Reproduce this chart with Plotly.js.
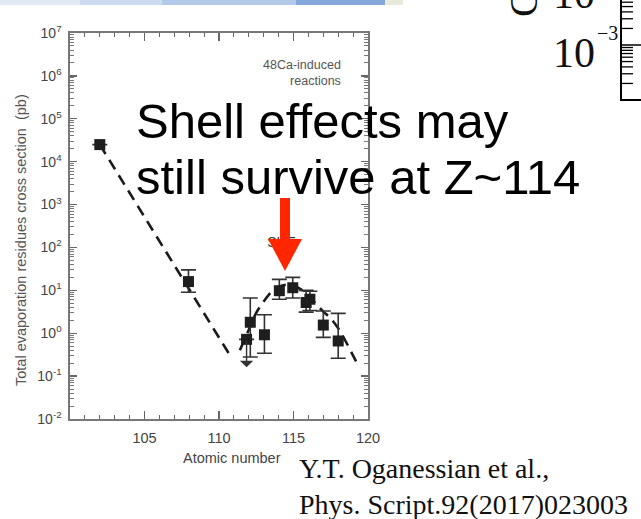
<!DOCTYPE html>
<html><head><meta charset="utf-8">
<script src="https://cdn.plot.ly/plotly-3.0.1.min.js"></script>
<style>html,body{margin:0;padding:0;background:#fff;overflow:hidden}#chart{width:641px;height:519px}</style>
</head><body><div id="chart"></div>
<script>
// ---- data ----
const zPoints   = [102, 107.95, 111.85, 112.1, 113.05, 114.05, 114.95, 115.85, 116.1, 117.0, 118.0];
const sigma     = [25000, 16, 0.72, 1.8, 0.92, 9.8, 11.5, 5.2, 6.2, 1.55, 0.66];
const sigmaHigh = [25000, 30, 0.72, 6.6, 2.7, 18, 20, 10, 9.5, 3.3, 2.9];
const sigmaLow  = [25000, 9, 0.72, 0.28, 0.34, 6.2, 6.6, 3.1, 3.4, 0.8, 0.26];
const limitZ    = [111.85];
const limitFrom = [0.72];
const limitTo   = [0.16];
const trend1Z = [102, 110.75];
const trend1S = [25000, 0.3];
const trend2Z = [111.4, 112.0, 112.5, 113.0, 113.5, 114.0, 114.5, 115.0, 115.5, 116.0, 116.5, 117.0, 117.5, 118.0, 118.5, 119.0, 119.4];
const trend2S = [0.4, 1.2, 3.0, 5.5, 9, 12, 13.5, 13, 10.5, 7.5, 4.8, 3.2, 2.2, 1.3, 0.65, 0.3, 0.16];
const yTickVals = [1e-2, 1e-1, 1, 1e1, 1e2, 1e3, 1e4, 1e5, 1e6, 1e7];
const yTickText = ['10<sup>-2</sup>','10<sup>-1</sup>','10<sup>0</sup>','10<sup>1</sup>','10<sup>2</sup>','10<sup>3</sup>','10<sup>4</sup>','10<sup>5</sup>','10<sup>6</sup>','10<sup>7</sup>'];
const xTickVals = [105, 110, 115, 120];
const xTickText = ['105', '110', '115', '120'];
const sheLabel = ['SHE'];
const sheZ = [114.2];
const sheS = [125];

// ---- geometry helpers (pixel -> paper) ----
const W = 641, H = 519, L = 70, R = 368, T = 33, B = 419;
const px = v => (v - L) / (R - L);
const py = v => (B - v) / (B - T);

const minorY = [];
for (let e = -2; e < 7; e++) for (let k = 2; k <= 9; k++) minorY.push(k * Math.pow(10, e));

const errPlus  = sigma.map((v, i) => sigmaHigh[i] - v);
const errMinus = sigma.map((v, i) => v - sigmaLow[i]);

const traces = [
  {x: trend1Z, y: trend1S, mode: 'lines', line: {color: '#1a1a1a', width: 2.6, dash: '11px,7px'}, hoverinfo: 'skip'},
  {x: trend2Z, y: trend2S, mode: 'lines', line: {color: '#1a1a1a', width: 2.6, dash: '11px,7px', shape: 'spline'}, hoverinfo: 'skip'},
  {x: zPoints, y: sigma, mode: 'markers', marker: {symbol: 'square', size: 11, color: '#1e1e1e'},
   error_y: {type: 'data', symmetric: false, array: errPlus, arrayminus: errMinus, color: '#333', thickness: 1.6, width: 7.5}},
  {x: sheZ, y: sheS, mode: 'text', text: sheLabel, textfont: {family: 'Liberation Sans, Arial', size: 14, color: '#333'}, hoverinfo: 'skip'}
];

const shapes = [];
// red arrow
const ax0 = 285;
shapes.push({type: 'path', xref: 'paper', yref: 'paper', layer: 'above', line: {width: 0}, fillcolor: '#ff2600',
  path: `M${px(ax0-5)},${py(198)} L${px(ax0+5)},${py(198)} L${px(ax0+5)},${py(239)} L${px(ax0+17)},${py(239)} L${px(ax0)},${py(271)} L${px(ax0-17)},${py(239)} L${px(ax0-5)},${py(239)} Z`});
// slide strip at the very top
const strip = [[0, 80, '#e1e9f4'], [80, 162, '#cddbef'], [162, 296, '#b3c9e9'], [296, 385, '#84a8dc'], [385, 403, '#eaeadc']];
strip.forEach(s => shapes.push({type: 'rect', xref: 'paper', yref: 'paper', x0: px(s[0]), x1: px(s[1]), y0: py(5), y1: py(0), line: {width: 0}, fillcolor: s[2], layer: 'above'}));
// piece of the neighbouring chart (top right)
shapes.push({type: 'line', xref: 'paper', yref: 'paper', x0: px(621), x1: px(621), y0: py(100), y1: py(-2), line: {color: '#000', width: 2}});
shapes.push({type: 'line', xref: 'paper', yref: 'paper', x0: px(620), x1: px(643), y0: py(100), y1: py(100), line: {color: '#000', width: 2}});
shapes.push({type: 'line', xref: 'paper', yref: 'paper', x0: px(621), x1: px(643), y0: py(45), y1: py(45), line: {color: '#000', width: 1.5}});
for (let k = 2; k <= 9; k++) {
  const d = 55 * Math.log10(k);
  [45 - d, 100 - d].forEach(yy => { if (yy > 0) shapes.push({type: 'line', xref: 'paper', yref: 'paper', x0: px(621), x1: px(633), y0: py(yy), y1: py(yy), line: {color: '#000', width: 1.3}}); });
}

const serif = 'Liberation Serif, Times New Roman';
const sans = 'Liberation Sans, Arial';
const annotations = [
  {xref: 'paper', yref: 'paper', x: px(343), y: py(73), xanchor: 'right', yanchor: 'middle', align: 'right', showarrow: false,
   text: '48Ca-induced<br>reactions', font: {family: sans, size: 12.5, color: '#555'}},
  {xref: 'paper', yref: 'paper', x: px(21), y: py(240), textangle: -90, showarrow: false, xanchor: 'center', yanchor: 'middle',
   text: 'Total evaporation residues cross section  (pb)', font: {family: sans, size: 14.5, color: '#555'}},
  {xref: 'paper', yref: 'paper', x: px(232), y: py(458), showarrow: false, xanchor: 'center', yanchor: 'middle',
   text: 'Atomic number', font: {family: sans, size: 14.5, color: '#444'}},
  {xref: 'x', yref: 'y', x: limitZ[0], y: Math.log10(limitTo[0]), axref: 'x', ayref: 'y', ax: limitZ[0], ay: Math.log10(limitFrom[0]),
   showarrow: true, arrowhead: 1, arrowsize: 1.6, arrowwidth: 1.4, arrowcolor: '#333', text: ''},
  {xref: 'paper', yref: 'paper', x: px(134), y: py(121), xanchor: 'left', yanchor: 'middle', showarrow: false,
   text: 'Shell effects may', font: {family: sans, size: 49, color: '#000'}},
  {xref: 'paper', yref: 'paper', x: px(134), y: py(177), xanchor: 'left', yanchor: 'middle', showarrow: false,
   text: 'still survive at Z~114', font: {family: sans, size: 49, color: '#000'}},
  {xref: 'paper', yref: 'paper', x: px(297), y: py(486), xanchor: 'left', yanchor: 'middle', align: 'left', showarrow: false,
   text: 'Y.T. Oganessian et al.,<br>Phys. Script.92(2017)023003', font: {family: serif, size: 28, color: '#111'}},
  {xref: 'paper', yref: 'paper', x: px(597), y: py(53), xanchor: 'right', yanchor: 'middle', showarrow: false,
   text: '10', font: {family: serif, size: 42, color: '#111'}},
  {xref: 'paper', yref: 'paper', x: px(595), y: py(33), xanchor: 'left', yanchor: 'middle', showarrow: false,
   text: '−3', font: {family: serif, size: 20, color: '#111'}},
  {xref: 'paper', yref: 'paper', x: px(597), y: py(-6), xanchor: 'right', yanchor: 'middle', showarrow: false,
   text: '10', font: {family: serif, size: 42, color: '#111'}},
  {xref: 'paper', yref: 'paper', x: px(524), y: py(4), xanchor: 'center', yanchor: 'middle', showarrow: false, textangle: -90,
   text: 'C', font: {family: serif, size: 40, color: '#111'}}
];

const layout = {
  width: W, height: H,
  margin: {l: L, r: W - R, t: T, b: H - B, pad: 0},
  paper_bgcolor: '#fff', plot_bgcolor: '#fff',
  showlegend: false,
  xaxis: {range: [100, 120], tickmode: 'array', tickvals: xTickVals, ticktext: xTickText,
    ticks: 'inside', ticklen: 8, tickwidth: 1.3, tickcolor: '#666', showline: true, linecolor: '#777', linewidth: 1.6,
    mirror: 'ticks', showgrid: false, zeroline: false, ticklabelstandoff: 5,
    tickfont: {family: sans, size: 14.5, color: '#444'},
    minor: {dtick: 1, ticks: 'inside', ticklen: 4, tickwidth: 1.1, tickcolor: '#666', showgrid: false}},
  yaxis: {type: 'log', range: [-2, 7], tickmode: 'array', tickvals: yTickVals, ticktext: yTickText,
    ticks: 'inside', ticklen: 7, tickwidth: 1.3, tickcolor: '#666', showline: true, linecolor: '#777', linewidth: 1.6,
    mirror: 'ticks', showgrid: false, zeroline: false, ticklabelstandoff: 4,
    tickfont: {family: sans, size: 14, color: '#444'},
    minor: {tickmode: 'array', tickvals: minorY, ticks: 'inside', ticklen: 4, tickwidth: 1, tickcolor: '#777', showgrid: false}},
  shapes: shapes,
  annotations: annotations
};

Plotly.newPlot('chart', traces, layout, {displayModeBar: false, staticPlot: true});
</script></body></html>
